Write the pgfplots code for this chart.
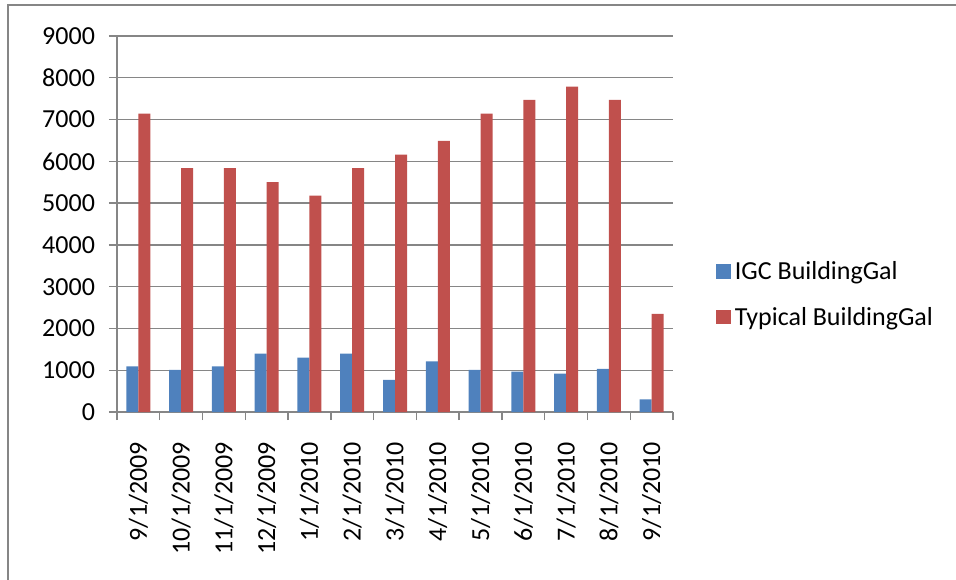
\documentclass[border=0pt]{standalone}
\usepackage{pgfplots}
\pgfplotsset{compat=1.18}
\usepackage{fontspec}
\setmainfont{Carlito}
\definecolor{igcblue}{RGB}{79,129,189}
\definecolor{typred}{RGB}{192,80,77}
\definecolor{axgray}{RGB}{134,134,134}
\begin{document}
\begin{tikzpicture}
\path[use as bounding box] (-87.75pt,-125.25pt) rectangle (629.25pt,309pt);
\draw[axgray, line width=1pt] (-81.75pt,-200pt) -- (-81.75pt,305.25pt) -- (700pt,305.25pt);
\begin{axis}[
  at={(0pt,0pt)}, anchor=south west,
  scale only axis, width=417pt, height=282pt,
  ybar=0pt, bar width=9pt,
  xmin=-0.5, xmax=12.5, ymin=0, ymax=9000,
  ytick={0,1000,...,9000},
  xtick={0,...,12},
  xticklabels={9/1/2009,10/1/2009,11/1/2009,12/1/2009,1/1/2010,2/1/2010,3/1/2010,4/1/2010,5/1/2010,6/1/2010,7/1/2010,8/1/2010,9/1/2010},
  axis lines*=left,
  axis line style={draw=axgray, line width=1pt, -},
  tick align=outside,
  major tick length=6pt,
  tick style={draw=axgray, line width=1pt},
  xtick style={draw=none},
  extra x ticks={-0.5,0.5,...,12.5},
  extra x tick labels={},
  extra x tick style={grid=none, xtick style={draw=axgray, line width=1pt}},
  ymajorgrids, grid style={draw=axgray, line width=1pt},
  tick label style={font=\fontsize{19.5}{23}\selectfont},
  /pgf/number format/assume math mode=true,
  /pgf/number format/1000 sep={},
  xticklabel style={rotate=90, anchor=east},
  xticklabel shift=13pt,
  yticklabel shift=7pt,
  legend style={draw=none, fill=none, at={(1.0773,0.313)}, anchor=west,
    font=\fontsize{19.5}{23}\selectfont, row sep=15pt, inner sep=0pt,
    nodes={inner xsep=3pt}},
  legend cell align=left,
  legend image code/.code={\fill[#1] (0pt,-5.5pt) rectangle (11pt,5.5pt);},
]
\addplot[fill=igcblue, draw=none] coordinates {
(0,1090) (1,1010) (2,1090) (3,1400) (4,1300) (5,1400) (6,770) (7,1210) (8,1010) (9,965) (10,917) (11,1030) (12,300)};
\addplot[fill=typred, draw=none] coordinates {
(0,7140) (1,5840) (2,5840) (3,5500) (4,5180) (5,5840) (6,6160) (7,6490) (8,7140) (9,7470) (10,7790) (11,7470) (12,2350)};
\legend{IGC BuildingGal, Typical BuildingGal}
\end{axis}
\end{tikzpicture}
\end{document}
